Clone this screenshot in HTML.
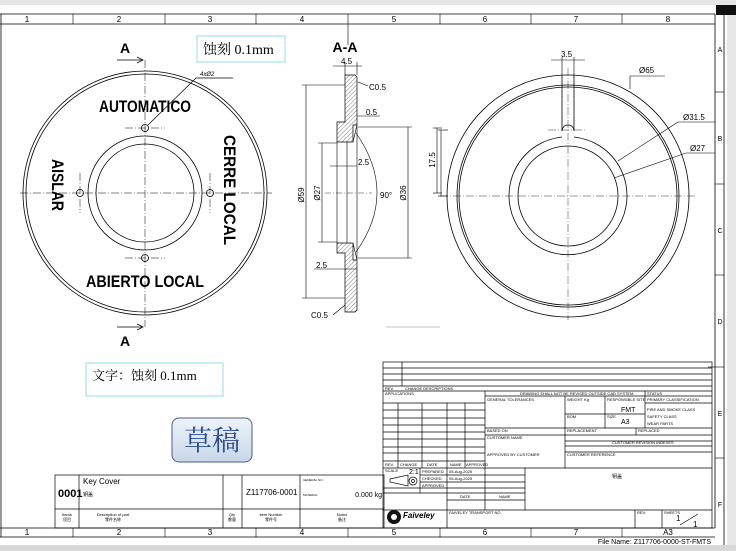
<!DOCTYPE html>
<html><head><meta charset="utf-8"><style>
html,body{margin:0;padding:0;background:#fff;width:736px;height:551px;overflow:hidden}
svg{display:block}
text{font-family:"Liberation Sans Narrow","Liberation Sans",sans-serif;fill:#000}
.cj{font-family:"Liberation Serif","Noto Serif CJK SC","Noto Sans CJK SC",serif}
.t{font-size:4px}
</style></head><body>
<svg width="736" height="551" viewBox="0 0 736 551" xmlns="http://www.w3.org/2000/svg">
<defs>
<pattern id="h" width="3" height="3" patternUnits="userSpaceOnUse" patternTransform="rotate(45)">
<line x1="0" y1="0" x2="0" y2="3" stroke="#000" stroke-width="0.5"/></pattern>
<linearGradient id="g" x1="0" y1="0" x2="0" y2="1"><stop offset="0" stop-color="#eef3fa"/><stop offset="1" stop-color="#c9d6e8"/></linearGradient>
</defs>
<rect x="0" y="0" width="736" height="5" fill="#e6e6e6"/>
<rect x="0" y="545" width="736" height="6" fill="#d8d8d8"/>
<rect x="727" y="15" width="9" height="530" fill="#e6e6e6"/>
<rect x="716" y="5" width="20" height="10" fill="#111"/>
<g fill="none" stroke="#000" stroke-width="0.8">
<line x1="0" y1="14" x2="715" y2="14"/>
<line x1="0" y1="24" x2="715" y2="24"/>
<line x1="715" y1="14" x2="715" y2="528"/>
<line x1="724" y1="15" x2="724" y2="545"/>
<line x1="0" y1="528" x2="715" y2="528"/>
<line x1="0" y1="537" x2="715" y2="537"/>
<line x1="1" y1="14" x2="1" y2="537"/>
</g>
<g stroke="#000" stroke-width="0.6">
<line x1="73" y1="14" x2="73" y2="24"/><line x1="165" y1="14" x2="165" y2="24"/><line x1="256" y1="14" x2="256" y2="24"/><line x1="348" y1="14" x2="348" y2="45"/><line x1="440" y1="14" x2="440" y2="24"/><line x1="531" y1="14" x2="531" y2="24"/><line x1="622" y1="14" x2="622" y2="24"/>
<line x1="73" y1="528" x2="73" y2="537"/><line x1="165" y1="528" x2="165" y2="537"/><line x1="256" y1="528" x2="256" y2="537"/><line x1="348" y1="528" x2="348" y2="537"/><line x1="440" y1="528" x2="440" y2="537"/><line x1="531" y1="528" x2="531" y2="537"/><line x1="622" y1="528" x2="622" y2="537"/>
<line x1="715" y1="92" x2="724" y2="92"/><line x1="715" y1="184" x2="724" y2="184"/><line x1="715" y1="275" x2="724" y2="275"/><line x1="708" y1="367" x2="724" y2="367"/><line x1="715" y1="458" x2="724" y2="458"/>
</g>
<g font-size="8" text-anchor="middle">
<text x="27" y="22">1</text><text x="119" y="22">2</text><text x="210" y="22">3</text><text x="302" y="22">4</text><text x="394" y="22">5</text><text x="485" y="22">6</text><text x="576" y="22">7</text><text x="668" y="22">8</text>
<text x="27" y="535">1</text><text x="119" y="535">2</text><text x="210" y="535">3</text><text x="302" y="535">4</text><text x="394" y="535">5</text><text x="485" y="535">6</text><text x="576" y="535">7</text><text x="668" y="535">A3</text>
<text x="720" y="52" font-size="7">A</text><text x="720" y="141" font-size="7">B</text><text x="720" y="233" font-size="7">C</text><text x="720" y="324" font-size="7">D</text><text x="720" y="416" font-size="7">E</text><text x="720" y="507" font-size="7">F</text>
</g>
<text x="711" y="544" font-size="7" text-anchor="end">File Name: Z117706-0000-ST-FMTS</text>

<!-- Left view -->
<g fill="none" stroke="#000" stroke-width="0.8">
<circle cx="145" cy="193" r="122"/><circle cx="145" cy="193" r="119"/>
<circle cx="145" cy="193" r="57"/><circle cx="145" cy="193" r="49"/>
<circle cx="145" cy="128" r="3.5"/><circle cx="145" cy="258" r="3.5"/><circle cx="80" cy="193" r="3.5"/><circle cx="210" cy="193" r="3.5"/>
</g>
<g stroke="#000" stroke-width="0.5" stroke-dasharray="8,2,1,2" fill="none">
<line x1="145" y1="60" x2="145" y2="327"/>
<line x1="20" y1="193" x2="272" y2="193"/>
<line x1="125" y1="128" x2="165" y2="128"/><line x1="125" y1="258" x2="165" y2="258"/>
<line x1="80" y1="173" x2="80" y2="213"/><line x1="210" y1="173" x2="210" y2="213"/>
</g>
<g stroke="#000" stroke-width="0.7" fill="none">
<line x1="117" y1="60" x2="143" y2="60"/><path d="M137,57 L143,60 L137,63"/>
<line x1="117" y1="327" x2="143" y2="327"/><path d="M137,324 L143,327 L137,330"/>
<line x1="148" y1="125" x2="196" y2="78"/><line x1="196" y1="78" x2="233" y2="78"/>
</g>
<text x="125" y="53" font-size="14" font-weight="bold" text-anchor="middle">A</text>
<text x="125" y="346" font-size="14" font-weight="bold" text-anchor="middle">A</text>
<text x="200" y="76" font-size="6" font-style="italic">4xØ2</text>
<text x="145" y="112" font-size="17" font-weight="bold" text-anchor="middle" textLength="92" lengthAdjust="spacingAndGlyphs">AUTOMATICO</text>
<text x="145" y="287" font-size="17" font-weight="bold" text-anchor="middle" textLength="118" lengthAdjust="spacingAndGlyphs">ABIERTO LOCAL</text>
<text transform="translate(224,190) rotate(90)" font-size="17" font-weight="bold" text-anchor="middle" textLength="110" lengthAdjust="spacingAndGlyphs">CERRE LOCAL</text>
<text transform="translate(52,185) rotate(90)" font-size="17" font-weight="bold" text-anchor="middle" textLength="52" lengthAdjust="spacingAndGlyphs">AISLAR</text>
<rect x="197" y="36" width="88" height="26" fill="#fff" stroke="#8fdde8" stroke-width="1"/>
<text x="203" y="54" font-size="14" class="cj">蚀刻 0.1mm</text>

<!-- Section -->
<text x="345" y="52" font-size="14" font-weight="bold" text-anchor="middle">A-A</text>
<g stroke="#000" stroke-width="0.7" fill="url(#h)">
<path d="M345,75 L355,75 L357,77 L357,125 L353,125 L353,142 L337,142 L337,122 L345,122 Z"/>
<path d="M337,243 L353,243 L353,260 L357,260 L357,310 L355,312 L345,312 L345,253 L337,253 Z"/>
</g>
<g stroke="#000" stroke-width="0.6" fill="none">
<line x1="347" y1="142" x2="347" y2="243"/><line x1="337" y1="142" x2="337" y2="243"/>
<line x1="353" y1="142" x2="357" y2="125"/><line x1="353" y1="243" x2="357" y2="260"/>
<line x1="357" y1="125" x2="357" y2="260"/>
<line x1="306" y1="85" x2="306" y2="298"/><line x1="302" y1="85" x2="345" y2="85"/><line x1="302" y1="298" x2="345" y2="298"/>
<line x1="322" y1="143" x2="322" y2="242"/><line x1="318" y1="143" x2="337" y2="143"/><line x1="318" y1="242" x2="337" y2="242"/>
<line x1="408" y1="127" x2="408" y2="258"/><line x1="358" y1="127" x2="412" y2="127"/><line x1="358" y1="258" x2="412" y2="258"/>
<line x1="437" y1="128" x2="437" y2="193"/><line x1="433" y1="128" x2="442" y2="128"/><line x1="433" y1="193" x2="442" y2="193"/>
<line x1="333" y1="66" x2="362" y2="66"/><line x1="345" y1="62" x2="345" y2="75"/><line x1="357" y1="62" x2="357" y2="75"/>
<path d="M356,133 Q398,193 356,252"/>
<line x1="330" y1="166" x2="357" y2="166"/><line x1="357" y1="116" x2="380" y2="116"/>
<line x1="314" y1="269" x2="357" y2="269"/>
<line x1="358" y1="82" x2="368" y2="86"/><line x1="345" y1="305" x2="333" y2="315"/>
<line x1="386" y1="327" x2="440" y2="327" stroke="#888"/>
</g>
<g stroke="#000" stroke-width="0.4" stroke-dasharray="6,2,1,2"><line x1="325" y1="193" x2="372" y2="193"/></g>
<g font-size="8">
<text x="341" y="64">4.5</text><text x="369" y="90">C0.5</text><text x="366" y="115">0.5</text>
<text x="358" y="165">2.5</text><text x="380" y="198">90°</text><text x="316" y="268">2.5</text><text x="311" y="318">C0.5</text>
<text transform="translate(304,195) rotate(-90)" text-anchor="middle">Ø59</text>
<text transform="translate(320,193) rotate(-90)" text-anchor="middle">Ø27</text>
<text transform="translate(406,193) rotate(-90)" text-anchor="middle">Ø36</text>
<text transform="translate(435,160) rotate(-90)" text-anchor="middle">17.5</text>
</g>

<!-- Right view -->
<g fill="none" stroke="#000" stroke-width="0.8">
<circle cx="568" cy="196" r="121"/><circle cx="568" cy="196" r="111"/><circle cx="568" cy="196" r="109"/>
<path d="M562,75 L562,131 A3,3 0 0 1 574,131 L574,75" />
<circle cx="568" cy="196" r="50"/>
<path d="M562,137 A59,59 0 1 0 574,137"/>
</g>
<g stroke="#000" stroke-width="0.4" stroke-dasharray="8,2,1,2"><line x1="568" y1="68" x2="568" y2="320"/><line x1="440" y1="196" x2="697" y2="196"/><line x1="548" y1="130" x2="585" y2="130"/></g>
<g stroke="#000" stroke-width="0.6" fill="none">
<line x1="551" y1="60" x2="585" y2="60"/><line x1="562" y1="57" x2="562" y2="75"/><line x1="574" y1="57" x2="574" y2="75"/>
<line x1="630" y1="76" x2="665" y2="76"/><line x1="630" y1="76" x2="630" y2="89"/>
<line x1="678" y1="122" x2="715" y2="122"/><line x1="678" y1="122" x2="618" y2="161"/>
<line x1="686" y1="153" x2="715" y2="153"/><line x1="686" y1="153" x2="614" y2="178"/>
<line x1="438" y1="130" x2="448" y2="130"/><line x1="438" y1="196" x2="448" y2="196"/><line x1="441" y1="130" x2="441" y2="196"/>
</g>
<g font-size="8"><text x="561" y="57">3.5</text><text x="639" y="73">Ø65</text><text x="683" y="120">Ø31.5</text><text x="690" y="151">Ø27</text></g>

<!-- notes / draft -->
<rect x="86" y="363" width="137" height="33" fill="#fff" stroke="#8fdde8" stroke-width="1"/>
<text x="92" y="380" font-size="13" class="cj">文字：蚀刻 0.1mm</text>
<rect x="172" y="418" width="80" height="44" rx="7" fill="url(#g)" stroke="#4a5f80" stroke-width="1"/>
<text x="212" y="450" font-size="28" text-anchor="middle" class="cj" style="fill:#2a4f8a">草稿</text>

<!-- parts list -->
<g fill="none" stroke="#000" stroke-width="0.7">
<rect x="55" y="475" width="329" height="53"/>
<line x1="55" y1="509" x2="384" y2="509"/>
<line x1="79" y1="475" x2="79" y2="528"/><line x1="223" y1="475" x2="223" y2="528"/><line x1="242" y1="475" x2="242" y2="528"/><line x1="300" y1="475" x2="300" y2="528"/>
</g>
<text x="58" y="497" font-size="11" font-weight="bold">0001</text>
<text x="83" y="484" font-size="8" font-family="Liberation Sans">Key Cover</text>
<text x="83" y="496" font-size="5">钥盖</text>
<text x="246" y="495" font-size="8" font-family="Liberation Sans">Z117706-0001</text>
<text x="303" y="481" font-size="3">GENERAL NO.</text><text x="303" y="496" font-size="3">MATERIAL</text>
<text x="382" y="497" font-size="7" text-anchor="end">0.000 kg</text>
<g font-size="4" text-anchor="middle"><text x="67" y="516">Items</text><text x="67" y="521">项目</text><text x="113" y="516">Description of part</text><text x="113" y="521">零件名称</text><text x="232" y="516">Qty</text><text x="232" y="521">数量</text><text x="271" y="516">Item Number</text><text x="271" y="521">零件号</text><text x="342" y="516">Notes</text><text x="342" y="521">备注</text></g>

<!-- title block -->
<g fill="none" stroke="#000" stroke-width="0.7">
<rect x="383" y="362" width="329" height="166"/>
<line x1="383" y1="368" x2="712" y2="368"/><line x1="383" y1="374" x2="712" y2="374"/><line x1="383" y1="380" x2="712" y2="380"/><line x1="383" y1="386" x2="712" y2="386"/><line x1="383" y1="391" x2="712" y2="391"/>
<line x1="402" y1="362" x2="402" y2="386"/>
<line x1="485" y1="396" x2="712" y2="396"/>
<line x1="383" y1="403" x2="485" y2="403"/><line x1="383" y1="410" x2="485" y2="410"/><line x1="383" y1="418" x2="485" y2="418"/><line x1="383" y1="425" x2="485" y2="425"/><line x1="383" y1="432" x2="485" y2="432"/><line x1="383" y1="439" x2="485" y2="439"/><line x1="383" y1="447" x2="485" y2="447"/><line x1="383" y1="453" x2="485" y2="453"/><line x1="383" y1="461" x2="485" y2="461"/>
<line x1="398" y1="403" x2="398" y2="468"/><line x1="422" y1="403" x2="422" y2="468"/><line x1="447" y1="403" x2="447" y2="468"/><line x1="465" y1="403" x2="465" y2="468"/>
<line x1="485" y1="391" x2="485" y2="510"/>
<line x1="565" y1="396" x2="565" y2="428"/><line x1="605" y1="396" x2="605" y2="428"/><line x1="645" y1="391" x2="645" y2="428"/>
<line x1="565" y1="414" x2="645" y2="414"/><line x1="645" y1="403" x2="712" y2="403"/>
<line x1="485" y1="428" x2="712" y2="428"/><line x1="485" y1="435" x2="712" y2="435"/>
<line x1="565" y1="428" x2="565" y2="468"/><line x1="636" y1="428" x2="636" y2="435"/>
<line x1="565" y1="441" x2="712" y2="441"/><line x1="565" y1="446" x2="712" y2="446"/><line x1="565" y1="452" x2="712" y2="452"/>
<line x1="383" y1="468" x2="712" y2="468"/>
<line x1="420" y1="468" x2="420" y2="493"/><line x1="447" y1="468" x2="447" y2="528"/><line x1="525" y1="468" x2="525" y2="510"/>
<line x1="420" y1="475" x2="525" y2="475"/><line x1="420" y1="482" x2="525" y2="482"/><line x1="383" y1="488" x2="525" y2="488"/><line x1="383" y1="493" x2="525" y2="493"/><line x1="447" y1="500" x2="525" y2="500"/>
<line x1="383" y1="510" x2="712" y2="510"/>
<line x1="635" y1="510" x2="635" y2="528"/><line x1="662" y1="510" x2="662" y2="528"/>
<line x1="680" y1="525" x2="698" y2="514"/>
<path d="M390,479 L408,475 L408,486 L390,482 Z"/><circle cx="413" cy="481" r="4"/><circle cx="413" cy="481" r="1.5"/>
</g>
<circle cx="394" cy="517" r="7" fill="#111"/><circle cx="394" cy="517" r="3" fill="#fff"/>
<text x="403" y="518" font-size="8" font-weight="bold" font-style="italic">Faiveley</text>
<g class="t">
<text x="385" y="390">REV.</text><text x="405" y="390">CHANGE DESCRIPTIONS</text>
<text x="385" y="395">APPLICATIONS</text>
<text x="520" y="395">DRAWING SHALL NOT BE REVISED OUTSIDE CAD SYSTEM</text><text x="647" y="395">STATUS</text>
<text x="487" y="401">GENERAL TOLERANCES</text><text x="567" y="401">WEIGHT Kg</text><text x="607" y="401">RESPONSIBLE SITE</text><text x="647" y="401">PRIMARY CLASSIFICATION</text>
<text x="567" y="418">BOM</text><text x="607" y="418">SIZE</text><text x="647" y="411">FIRE AND SMOKE CLASS</text><text x="647" y="418">SAFETY CLASS</text><text x="647" y="425">WEAR PARTS</text>
<text x="487" y="432">BASED ON</text><text x="567" y="432">REPLACEMENT</text><text x="638" y="432">REPLACED</text>
<text x="487" y="439">CUSTOMER NAME</text><text x="612" y="444">CUSTOMER REVISION INDEXES</text><text x="567" y="456">CUSTOMER REFERENCE</text>
<text x="487" y="456">APPROVED BY CUSTOMER</text>
<text x="385" y="466">REV.</text><text x="400" y="466">CHANGE</text><text x="427" y="466">DATE</text><text x="450" y="466">NAME</text><text x="466" y="466">APPROVED</text>
<text x="385" y="472">SCALE</text><text x="422" y="473">PREPARED</text><text x="449" y="473">05-Aug-2025</text>
<text x="422" y="480">CHECKED</text><text x="449" y="480">05-Aug-2025</text><text x="422" y="487">APPROVED</text>
<text x="460" y="498">DATE</text><text x="499" y="498">NAME</text>
<text x="449" y="514">FAIVELEY TRANSPORT NO.</text><text x="637" y="514">REV.</text><text x="664" y="514">SHEETS</text>
</g>
<text x="409" y="474" font-size="7">2:1</text>
<text x="621" y="412" font-size="7">FMT</text><text x="621" y="424" font-size="7">A3</text>
<text x="612" y="478" font-size="5">钥盖</text>
<text x="676" y="521" font-size="8">1</text><text x="693" y="527" font-size="8">1</text>
</svg>
</body></html>
